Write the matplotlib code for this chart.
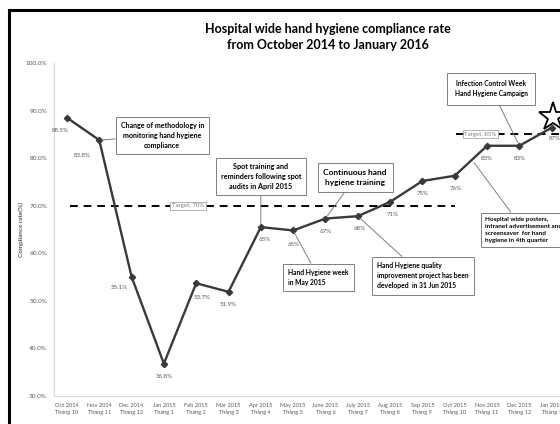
import matplotlib
matplotlib.use("Agg")
import matplotlib.pyplot as plt
from matplotlib.lines import Line2D

plt.rcParams["font.family"] = ["Lato", "DejaVu Sans"]

# data
months = ["Oct 2014", "Nov 2014", "Dec 2014", "Jan 2015", "Feb 2015", "Mar 2015",
          "Apr 2015", "May 2015", "June 2015", "July 2015", "Aug 2015", "Sep 2015",
          "Oct 2015", "Nov 2015", "Dec 2015", "Jan 2016"]
thang = ["Tháng 10", "Tháng 11", "Tháng 12", "Tháng 1", "Tháng 2", "Tháng 3",
         "Tháng 4", "Tháng 5", "Tháng 6", "Tháng 7", "Tháng 8", "Tháng 9",
         "Tháng 10", "Tháng 11", "Tháng 12", "Tháng 1"]
rate = [88.5, 83.8, 55.1, 36.8, 53.7, 51.9, 65.5, 64.8, 67.3, 67.8, 70.8, 75.2,
        76.3, 82.6, 82.6, 86.4]
rate_labels = ["88.5%", "83.8%", "55.1%", "36.8%", "53.7%", "51.9%", "65%", "65%",
               "67%", "68%", "71%", "75%", "76%", "83%", "83%", "87%"]
target_2015 = 70
target_2016 = 85
yticks = [30, 40, 50, 60, 70, 80, 90, 100]

# label offsets in points (dx, dy)
label_off = [(-5, -9), (-12, -11), (-9, -8), (0, -9), (4, -10), (0, -9), (3, -9),
             (0, -10), (0, -9), (1, -9), (2, -9), (0, -9), (1, -9), (0, -9),
             (0, -9), (2, -8)]

fig = plt.figure(figsize=(5.6, 4.24), dpi=100)
ax = fig.add_axes([54 / 560, 1 - 396 / 424, 530 / 560, 333 / 424])

x = list(range(len(rate)))
ax.plot(x, rate, color="#3a3a3a", lw=1.7, marker="D", ms=3.2, zorder=3)

for i, (v, lab) in enumerate(zip(rate, rate_labels)):
    ax.annotate(lab, (i, v), xytext=label_off[i], textcoords="offset points",
                ha="center", va="center", fontsize=4.4, color="#595959")

# target lines
ax.plot([0.1, 12.0], [target_2015] * 2, ls=(0, (4, 3)), color="black", lw=1.4, zorder=2)
ax.plot([12.05, 16], [target_2016] * 2, ls=(0, (4, 3)), color="black", lw=1.4, zorder=2)
tbox = dict(boxstyle="square,pad=0.25", fc="white", ec="#a6a6a6", lw=0.6)
ax.text(3.75, target_2015, "Target, 70%", fontsize=4.4, color="#7f7f7f",
        ha="center", va="center", bbox=tbox, zorder=4)
ax.text(12.8, target_2016, "Target, 85%", fontsize=4.4, color="#7f7f7f",
        ha="center", va="center", bbox=tbox, zorder=4)

# star at the end
ax.plot([15.05], [88.6], marker="*", ms=21, mfc="white", mec="black", mew=1.3,
        zorder=5, clip_on=False)

# annotation boxes
arrow = dict(arrowstyle="-", color="#7f7f7f", lw=0.7, shrinkA=0, shrinkB=2)
notes = [
    ("Change of methodology in\nmonitoring hand hygiene\ncompliance", (1, 83.8), (2.95, 84.7), "center", 5.1, 0.7),
    ("Spot training and\nreminders following spot\naudits in April 2015", (6, 65.5), (6.0, 76.1), "center", 5.2, 0.7),
    ("Continuous hand\nhygiene training", (8, 67.3), (8.92, 75.9), "center", 6.0, 0.7),
    ("Hand Hygiene week\nin May 2015", (7, 64.8), (6.85, 54.9), "left", 4.9, 0.8),
    ("Hand Hygiene quality\nimprovement project has been\ndeveloped  in 31 Jun 2015", (9, 67.8), (9.6, 55.3), "left", 4.9, 0.8),
    ("Infection Control Week\nHand Hygiene Campaign", (14, 82.6), (13.13, 94.6), "center", 4.8, 1.1),
    ("Hospital wide posters,\nintranet advertisement and\nscreensaver  for hand\nhygiene in 4th quarter", (12.55, 79.5), (12.95, 64.9), "left", 4.6, 0.7),
]
for txt, xy, xyt, ha, fs, pad in notes:
    box = dict(boxstyle=f"square,pad={pad}", fc="white", ec="#7f7f7f", lw=0.7)
    ax.annotate(txt, xy, xytext=xyt, ha=ha, va="center", fontsize=fs,
                fontweight="bold", color="black", linespacing=1.5,
                bbox=box, arrowprops=arrow, zorder=4, annotation_clip=False)

ax.set_xlim(-0.4, 16)
ax.set_ylim(30, 100)
ax.set_yticks(yticks)
ax.set_yticklabels([f"{t:.1f}%" for t in yticks], fontsize=4.6, color="#595959")
ax.set_xticks(x)
ax.set_xticklabels([f"{m}\n{t}" for m, t in zip(months, thang)], fontsize=4.1,
                   color="#595959", linespacing=1.6)
ax.tick_params(length=0, pad=5)
for s in ["top", "right"]:
    ax.spines[s].set_visible(False)
for s in ["left", "bottom"]:
    ax.spines[s].set_color("#d9d9d9")
    ax.spines[s].set_linewidth(0.8)
ax.set_ylabel("Compliance rate(%)", fontsize=4.6, fontweight="bold",
              color="#595959", labelpad=1)

fig.text(0.585, 0.913, "Hospital wide hand hygiene compliance rate\nfrom October 2014 to January 2016",
         ha="center", va="center", fontsize=9, fontweight="bold", linespacing=1.45)

# black frame on the left and top edges
fig.add_artist(Line2D([8.5 / 560, 8.5 / 560], [0, 1 - 9.5 / 424], color="black", lw=2.2,
                      transform=fig.transFigure, solid_capstyle="projecting"))
fig.add_artist(Line2D([8.5 / 560, 1], [1 - 9.5 / 424] * 2, color="black", lw=2.2,
                      transform=fig.transFigure, solid_capstyle="projecting"))

fig.savefig("out.png", dpi=100, facecolor="white")
